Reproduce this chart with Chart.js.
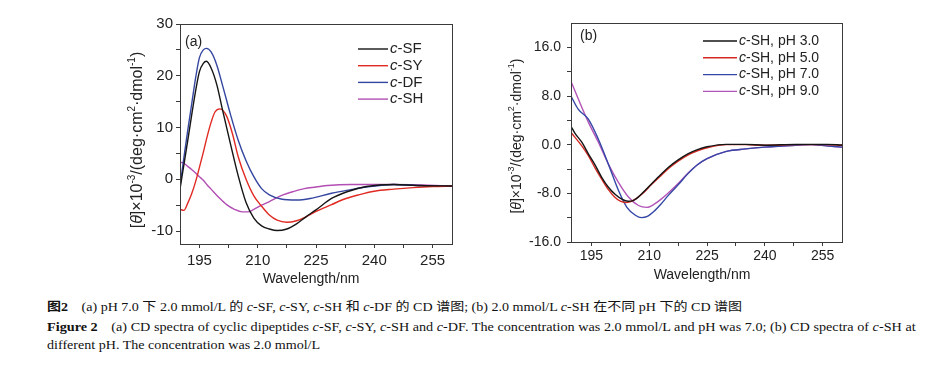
<!DOCTYPE html>
<html>
<head>
<meta charset="utf-8">
<script src="https://cdn.jsdelivr.net/npm/chart.js@4.4.1/dist/chart.umd.min.js"></script>
<style>
  html, body { margin: 0; padding: 0; background: #fff; }
  body { width: 938px; height: 374px; position: relative; overflow: hidden; }
  canvas { position: absolute; }
  #chartA { left: 110px; top: 8px; }
  #chartB { left: 500px; top: 8px; }
  .cap { position: absolute; left: 47px; white-space: nowrap; font-family: "Liberation Serif", "Noto Sans CJK SC", serif; font-size: 12.5px; line-height: 16px; color: #111; transform-origin: 0 50%; }
  .cap b { font-weight: bold; margin-right: 12px; }
</style>
</head>
<body>
<canvas id="chartA" width="350" height="284"></canvas>
<canvas id="chartB" width="350" height="284"></canvas>
<div class="cap" data-w="695" style="top:299px"><b>图2</b>(a) pH 7.0 下 2.0 mmol/L 的 <i>c</i>-SF, <i>c</i>-SY, <i>c</i>-SH 和 <i>c</i>-DF 的 CD 谱图; (b) 2.0 mmol/L <i>c</i>-SH 在不同 pH 下的 CD 谱图</div>
<div class="cap" data-w="869" style="top:319px"><b>Figure 2</b>(a) CD spectra of cyclic dipeptides <i>c</i>-SF, <i>c</i>-SY, <i>c</i>-SH and <i>c</i>-DF. The concentration was 2.0 mmol/L and pH was 7.0; (b) CD spectra of <i>c</i>-SH at</div>
<div class="cap" data-w="273" style="top:337px">different pH. The concentration was 2.0 mmol/L</div>
<script>
// ---- panel (a): pH 7.0, four dipeptides ----
const namesA = ['c-SF', 'c-SY', 'c-DF', 'c-SH'];
const sfNm  = [190, 191, 192, 193, 194, 195, 196, 196.8, 198, 199.5, 201, 203, 205, 207, 209, 211, 213, 215, 217.5, 220, 222.5, 225, 229, 233, 238, 245, 251, 260];
const sfVal = [-1.9, 2.8, 7.5, 12.4, 17.0, 20.8, 22.4, 22.8, 21.5, 18.2, 13.2, 6.8, 0.6, -4.5, -7.5, -9.0, -9.6, -9.9, -9.6, -8.6, -7.2, -5.9, -3.7, -2.4, -1.4, -1.0, -1.2, -1.3];
const syNm  = [190, 191, 192, 193, 194, 195, 196, 197, 198, 199, 200.3, 202, 203.5, 205, 207, 209, 211, 213, 215, 217.5, 220, 222, 225, 229, 232, 236, 240, 245, 250, 255, 260];
const syVal = [-5.8, -6.0, -4.6, -2.8, -0.5, 2.3, 5.2, 8.3, 11.0, 13.0, 13.6, 12.2, 8.8, 4.3, 0, -3.2, -5.2, -6.9, -7.9, -8.3, -8.0, -7.4, -6.2, -4.9, -3.9, -3.0, -2.3, -1.9, -1.6, -1.4, -1.3];
const dfNm  = [190, 191, 192, 193, 194, 195, 196, 196.8, 198, 199.5, 201, 203, 205, 207, 209, 211, 213, 216, 220, 223.5, 229, 234, 238, 245, 251, 260];
const dfVal = [-1.3, 4.2, 9.5, 14.5, 19.5, 23.5, 25.0, 25.3, 24.6, 22.0, 18.0, 12.5, 7.5, 3.6, 0.5, -1.8, -3.0, -3.8, -4.0, -3.7, -2.7, -2.0, -1.5, -1.0, -1.2, -1.3];
const shNm  = [190, 191, 192, 193, 194, 195, 196, 197, 198, 200, 202, 204, 206, 207.5, 209, 211, 213, 216.5, 219, 222, 225, 228, 234, 245, 252, 260];
const shVal = [3.3, 3.1, 2.5, 1.9, 1.2, 0.5, -0.2, -1.1, -1.9, -3.5, -4.9, -5.8, -6.3, -6.3, -5.8, -5.0, -4.3, -3.0, -2.4, -1.8, -1.5, -1.2, -1.0, -1.0, -1.1, -1.3];

// ---- panel (b): c-SH at different pH ----
const namesB = ['c-SH, pH 3.0', 'c-SH, pH 5.0', 'c-SH, pH 7.0', 'c-SH, pH 9.0'];
const ph3Nm  = [189.7, 190.7, 192.5, 194.2, 196, 197.7, 199.4, 201.2, 203, 204.5, 205.8, 207, 208.5, 210.5, 213, 215, 217.5, 220, 222.5, 225, 230, 235, 240, 248, 256, 260];
const ph3Val = [3.0, 1.9, 0.4, -1.5, -3.4, -5.4, -7.0, -8.2, -9.0, -9.3, -9.2, -8.7, -7.8, -6.5, -4.9, -3.7, -2.5, -1.5, -0.8, -0.35, 0.05, 0.05, -0.1, 0.05, 0.05, -0.05];
const ph5Nm  = [189.7, 192.5, 194.2, 196, 197.7, 199.4, 201, 202.5, 203.8, 205, 206.5, 208.5, 210.5, 213, 215, 217.5, 220, 222.5, 225, 230, 235, 240, 248, 256, 260];
const ph5Val = [2.0, -0.2, -1.8, -3.9, -5.7, -7.4, -8.6, -9.3, -9.5, -9.4, -8.9, -7.9, -6.6, -5.1, -3.9, -2.7, -1.7, -1.0, -0.5, 0, 0, -0.1, 0, 0, -0.1];
const ph7Nm  = [189.7, 191.6, 194.2, 196.8, 199.4, 202, 204.2, 206.4, 208, 209.5, 211.5, 213, 215, 217.5, 220, 222.5, 225, 230, 235, 240, 248, 252, 256, 260];
const ph7Val = [8.0, 5.8, 4.2, 0.9, -3.2, -7.5, -10.3, -11.6, -12.0, -11.8, -10.8, -9.8, -8.3, -6.6, -4.8, -3.3, -2.3, -1.1, -0.7, -0.4, -0.1, 0, -0.2, -0.4];
const ph9Nm  = [189.7, 191.6, 194.2, 196.8, 199.4, 202, 204.6, 207.2, 209.4, 211.5, 213, 215, 217.5, 220, 222.5, 225, 230, 235, 240, 248, 252, 256, 260];
const ph9Val = [10.4, 7.5, 3.7, 0.4, -3.2, -6.2, -8.6, -10.0, -10.3, -9.7, -9.0, -7.9, -6.4, -4.7, -3.3, -2.3, -1.1, -0.7, -0.4, -0.1, 0, -0.2, -0.4];

// ticks
const xTicks = [195, 202.5, 210, 217.5, 225, 232.5, 240, 247.5, 255];
const xLabels = [195, 210, 225, 240, 255];
const yTicksA = [-10, -5, 0, 5, 10, 15, 20, 25, 30];
const yLabelsA = [-10, 0, 10, 20, 30];
const yTicksB = [-16, -12, -8, -4, 0, 4, 8, 12, 16];
const yLabelsB = [-16, -8, 0, 8, 16];

const AXIS = '#3a3a3a';
const SANS = '"Liberation Sans", Arial, sans-serif';

function pairs(xs, ys) {
    return xs.map((x, i) => ({ x: x, y: ys[i] }));
}

function line(label, xs, ys, color) {
    return {
        label: label,
        data: pairs(xs, ys),
        borderColor: color,
        borderWidth: 1.4,
        pointRadius: 0,
        cubicInterpolationMode: 'monotone',
        fill: false
    };
}

// frame, legend with italic "c", panel tag and axis titles
function decor(o) {
    return {
        id: 'decor',
        afterDraw(chart) {
            const ctx = chart.ctx;
            const a = chart.chartArea;
            ctx.save();
            ctx.strokeStyle = AXIS;
            ctx.lineWidth = 1;
            ctx.strokeRect(Math.round(a.left) + 0.5, Math.round(a.top) + 0.5,
                Math.round(a.right - a.left), Math.round(a.bottom - a.top));

            ctx.fillStyle = '#222';
            ctx.textBaseline = 'middle';
            ctx.font = o.fontSize + 'px ' + SANS;
            ctx.fillText(o.tag, a.left + o.tagX, a.top + o.tagY);

            // legend
            chart.data.datasets.forEach((ds, i) => {
                const y = a.top + o.legY + i * o.legStep;
                ctx.strokeStyle = ds.borderColor;
                ctx.lineWidth = 1.4;
                ctx.beginPath();
                ctx.moveTo(a.left + o.legX, y);
                ctx.lineTo(a.left + o.legX + o.legLen, y);
                ctx.stroke();
                let tx = a.left + o.legX + o.legLen + 2;
                ctx.fillStyle = '#222';
                ctx.font = 'italic ' + o.legFont + 'px ' + SANS;
                ctx.fillText(ds.label[0], tx, y);
                tx += ctx.measureText(ds.label[0]).width;
                ctx.font = o.legFont + 'px ' + SANS;
                ctx.fillText(ds.label.slice(1), tx, y);
            });

            // x title
            ctx.textAlign = 'center';
            ctx.font = '14px ' + SANS;
            ctx.fillText('Wavelength/nm', o.xtX, o.xtY);

            // y title, rotated, with italic theta and superscripts
            const big = o.ytFont, small = Math.round(o.ytFont * 0.62);
            const segs = [
                { t: '[' }, { t: 'θ', it: true }, { t: ']×10' }, { t: '-3', sup: true },
                { t: '/(deg·cm' }, { t: '2', sup: true }, { t: '·dmol' }, { t: '-1', sup: true }, { t: ')' }
            ];
            const fontOf = s => (s.it ? 'italic ' : '') + (s.sup ? small : big) + 'px ' + SANS;
            let total = 0;
            segs.forEach(s => { ctx.font = fontOf(s); s.w = ctx.measureText(s.t).width; total += s.w; });
            ctx.translate(o.ytX, o.ytY);
            ctx.rotate(-Math.PI / 2);
            ctx.textAlign = 'left';
            let px = -total / 2;
            segs.forEach(s => {
                ctx.font = fontOf(s);
                ctx.fillText(s.t, px, s.sup ? -big * 0.38 : 0);
                px += s.w;
            });
            ctx.restore();
        }
    };
}

function makeChart(id, cfg) {
    return new Chart(document.getElementById(id), {
        type: 'line',
        data: { datasets: cfg.datasets },
        options: {
            responsive: false,
            animation: false,
            devicePixelRatio: 1,
            layout: { padding: { top: cfg.padTop, right: cfg.padRight, left: 0, bottom: 0 } },
            plugins: { legend: { display: false }, tooltip: { enabled: false } },
            scales: {
                x: {
                    type: 'linear',
                    min: cfg.xMin,
                    max: 260,
                    afterBuildTicks: s => { s.ticks = xTicks.map(v => ({ value: v })); },
                    afterFit: s => { s.height = cfg.xHeight; },
                    grid: { drawOnChartArea: false, drawTicks: true, tickLength: 4, color: AXIS },
                    border: { display: true, color: AXIS },
                    ticks: {
                        autoSkip: false,
                        maxRotation: 0,
                        padding: cfg.xPad,
                        color: '#222',
                        font: { family: SANS, size: cfg.tickFont },
                        callback: v => xLabels.includes(v) ? String(v) : ''
                    }
                },
                y: {
                    min: cfg.yMin,
                    max: cfg.yMax,
                    afterBuildTicks: s => { s.ticks = cfg.yTicks.map(v => ({ value: v })); },
                    afterFit: s => { s.width = cfg.yWidth; },
                    grid: { drawOnChartArea: false, drawTicks: true, tickLength: 4, color: AXIS },
                    border: { display: true, color: AXIS },
                    ticks: {
                        autoSkip: false,
                        padding: cfg.yPad,
                        color: '#222',
                        font: { family: SANS, size: cfg.tickFont },
                        callback: v => cfg.yLabels.includes(v) ? cfg.fmt(v) : ''
                    }
                }
            }
        },
        plugins: [decor(cfg.decor)]
    });
}

makeChart('chartA', {
    datasets: [
        line(namesA[0], sfNm, sfVal, '#151515'),
        line(namesA[1], syNm, syVal, '#e02a22'),
        line(namesA[2], dfNm, dfVal, '#3546a0'),
        line(namesA[3], shNm, shVal, '#b24eb4')
    ],
    xMin: 190, yMin: -12.5, yMax: 30,
    yTicks: yTicksA, yLabels: yLabelsA, fmt: v => String(v),
    padTop: 16, padRight: 8, xHeight: 48, yWidth: 70,
    xPad: 4, yPad: 3, tickFont: 15,
    decor: {
        tag: '(a)', tagX: 5, tagY: 18, fontSize: 14,
        legX: 178, legY: 25, legStep: 16.7, legLen: 30, legFont: 15,
        xtX: 201, xtY: 271, ytX: 28, ytY: 132, ytFont: 16
    }
});

makeChart('chartB', {
    datasets: [
        line(namesB[0], ph3Nm, ph3Val, '#151515'),
        line(namesB[1], ph5Nm, ph5Val, '#d42a22'),
        line(namesB[2], ph7Nm, ph7Val, '#3547a6'),
        line(namesB[3], ph9Nm, ph9Val, '#b254b8')
    ],
    xMin: 189.7, yMin: -16, yMax: 20,
    yTicks: yTicksB, yLabels: yLabelsB, fmt: v => v.toFixed(1),
    padTop: 15, padRight: 8, xHeight: 50, yWidth: 71,
    xPad: 2, yPad: 6, tickFont: 14,
    decor: {
        tag: '(b)', tagX: 9, tagY: 13, fontSize: 14,
        legX: 132, legY: 18, legStep: 16.8, legLen: 34, legFont: 14,
        xtX: 202, xtY: 267, ytX: 17, ytY: 128, ytFont: 14
    }
});

// fit each caption line to the measured width in the figure
document.querySelectorAll('.cap').forEach(el => {
    const w = el.getBoundingClientRect().width;
    const target = +el.dataset.w;
    el.style.transform = 'scaleX(' + (target / w).toFixed(3) + ')';
});
</script>
</body>
</html>
